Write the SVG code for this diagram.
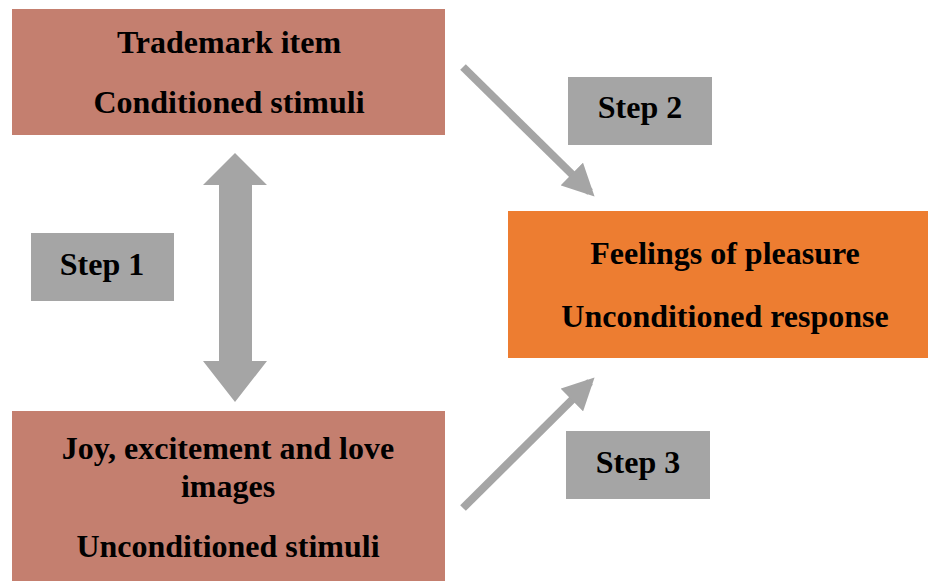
<svg xmlns="http://www.w3.org/2000/svg" width="928" height="581" viewBox="0 0 928 581">
  <defs>
    <style>
      .lbl { font-family: "Liberation Serif", "Times New Roman", serif; font-weight: bold; font-size: 32px; fill: #000; text-anchor: middle; }
      .step { font-family: "Liberation Serif", "Times New Roman", serif; font-weight: bold; font-size: 32px; fill: #000; text-anchor: middle; }
      .stim { fill: #c47f6f; }
      .resp { fill: #ed7d31; }
      .tag { fill: #a5a5a5; }
      .arrow { stroke: #a5a5a5; stroke-width: 8; fill: none; }
    </style>
    <marker id="head" viewBox="0 0 10 10" refX="8" refY="5" markerWidth="4" markerHeight="4" orient="auto" markerUnits="strokeWidth">
      <path d="M0,0 L10,5 L0,10 Z" fill="#a5a5a5"/>
    </marker>
  </defs>
  <rect width="928" height="581" fill="#fff"/>

  <g id="conditioned-stimulus">
    <rect class="stim" x="12" y="9" width="433" height="126"/>
    <text class="lbl" x="229" y="53">Trademark item</text>
    <text class="lbl" x="229" y="113">Conditioned stimuli</text>
  </g>

  <g id="unconditioned-stimulus">
    <rect class="stim" x="12" y="411" width="433" height="170"/>
    <text class="lbl" x="228" y="459">Joy, excitement and love</text>
    <text class="lbl" x="228" y="497">images</text>
    <text class="lbl" x="228" y="557">Unconditioned stimuli</text>
  </g>

  <g id="unconditioned-response">
    <rect class="resp" x="508" y="211" width="420" height="147"/>
    <text class="lbl" x="725" y="264">Feelings of pleasure</text>
    <text class="lbl" x="725" y="327">Unconditioned response</text>
  </g>

  <g id="step1">
    <rect class="tag" x="31" y="233" width="143" height="68"/>
    <text class="step" x="102" y="275">Step 1</text>
  </g>

  <g id="step2">
    <rect class="tag" x="568" y="77" width="144" height="68"/>
    <text class="step" x="640" y="118">Step 2</text>
  </g>

  <g id="step3">
    <rect class="tag" x="566" y="431" width="144" height="68"/>
    <text class="step" x="638" y="473">Step 3</text>
  </g>

  <g id="connectors">
    <polygon fill="#a5a5a5" points="235,153 267,185 252,185 252,361 267,361 235,402 203,361 219,361 219,185 203,185"/>
    <line class="arrow" x1="463" y1="67" x2="590" y2="192" marker-end="url(#head)"/>
    <line class="arrow" x1="463" y1="508" x2="590" y2="382" marker-end="url(#head)"/>
  </g>
</svg>
